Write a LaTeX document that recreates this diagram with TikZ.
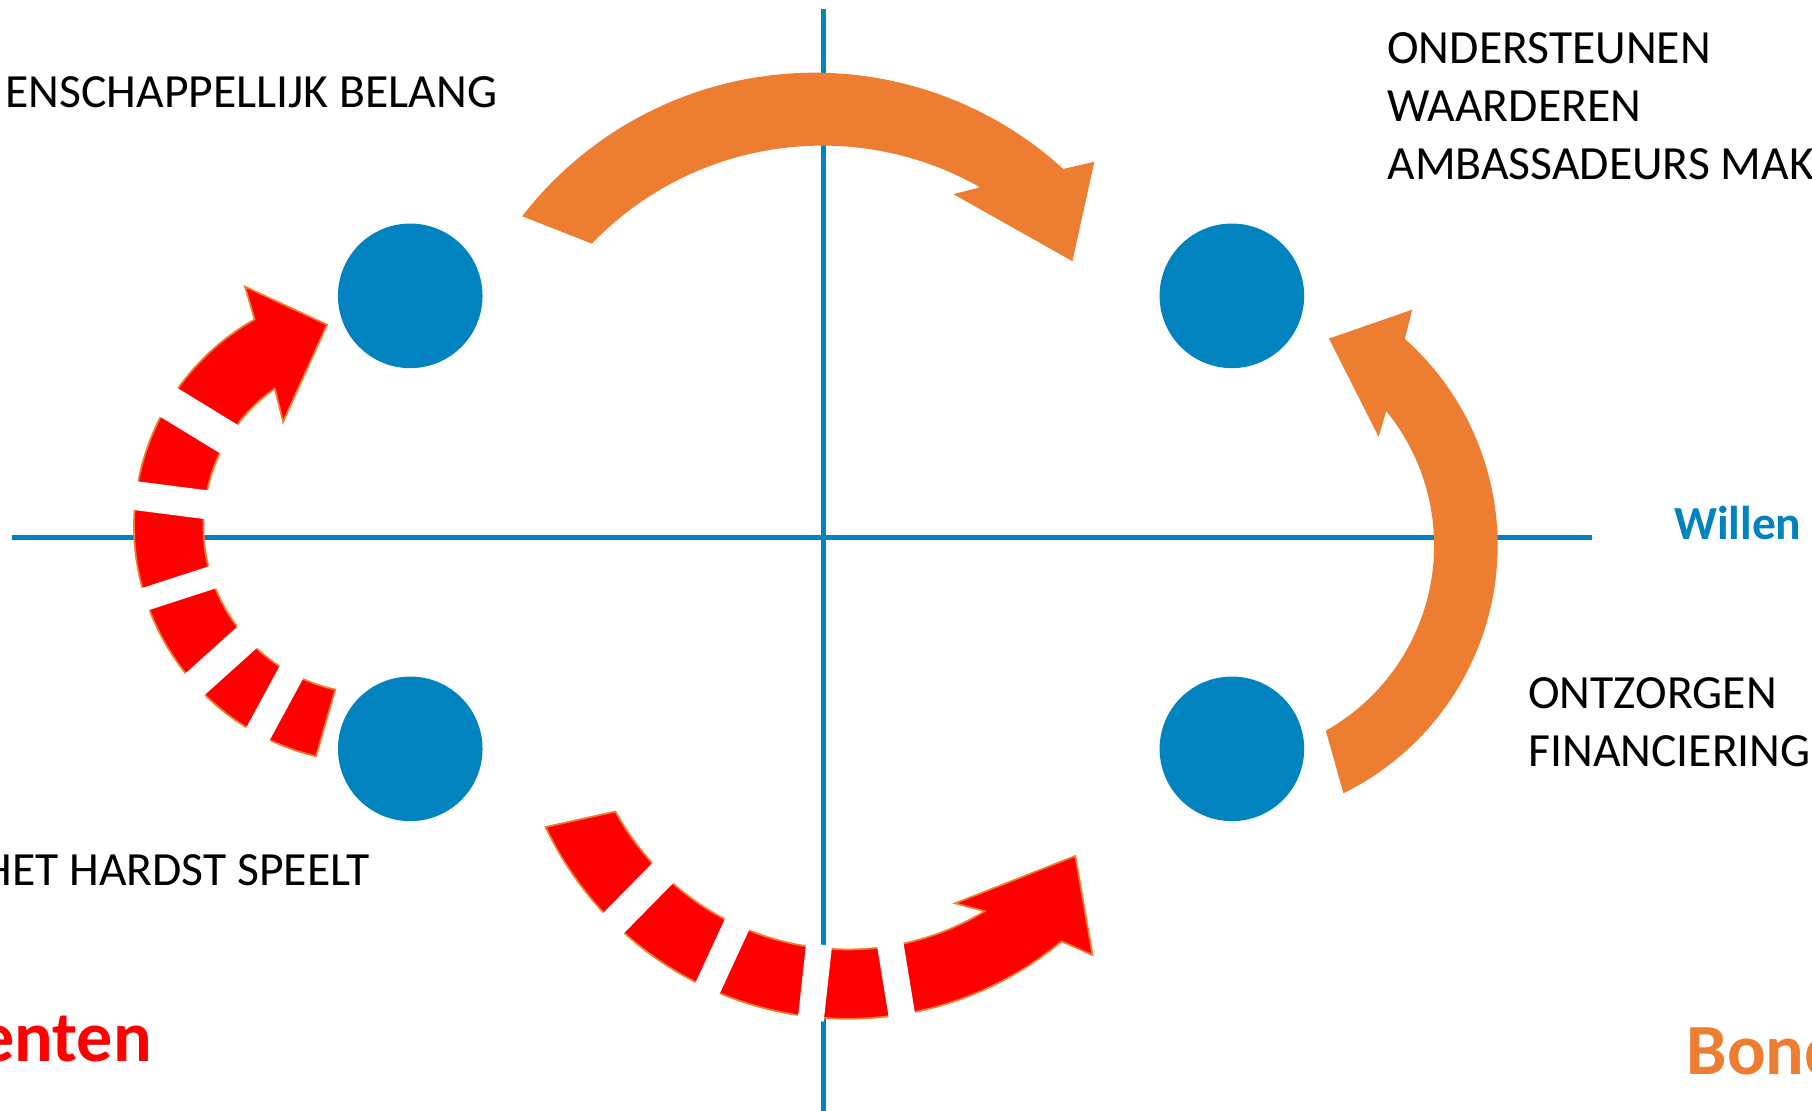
\documentclass[tikz,border=0pt]{standalone}
\usepackage{fontspec}
\setmainfont{Carlito}
\usetikzlibrary{calc}
\definecolor{axisblue}{RGB}{0,131,190}
\definecolor{arrorange}{RGB}{237,125,49}
\definecolor{arrred}{RGB}{255,0,0}
\begin{document}
\begin{tikzpicture}[x=0.011556cm, y=0.011556cm,
  dot/.style={circle, fill=axisblue, minimum size=1.445cm, inner sep=0pt},
  axisline/.style={draw=axisblue, line width=0.05cm},
  orangearrow/.style={fill=arrorange},
  redarrow/.style={fill=arrred, draw=arrorange, line width=0.5pt, line join=miter},
  gapbar/.style={draw=white, line width=#1*0.011556cm},
  lbl/.style={font=\fontsize{13.55}{16}\selectfont, inner sep=0pt, text=black},
  axislbl/.style={font=\fontsize{13.5}{16}\selectfont\bfseries, inner sep=0pt, text=axisblue},
  biglbl/.style={font=\fontsize{20.5}{24}\selectfont\bfseries, inner sep=0pt}
]
\useasboundingbox (0,0) rectangle (1568,961);

% axes
\coordinate (hl) at (10,496);
\coordinate (hr) at (1378,496);
\coordinate (vt) at (713,953);
\coordinate (vb) at (713,0);
\draw[axisline] (hl) -- (hr);
\draw[axisline] (vt) -- (vb);

% circles
\node[dot] (c1) at (355,705) {};
\node[dot] (c2) at (1066,705) {};
\node[dot] (c3) at (355,313) {};
\node[dot] (c4) at (1066,313) {};

% top orange arrow
\coordinate (OT) at (704.9,578.3);
\coordinate (IT) at (711.5,558.3);
\fill[orangearrow] ($(OT)+(142.3:319.8)$) arc[start angle=142.3, end angle=47.7, radius=319.8]
  -- (947,821) -- (928,735) -- (825,793)
  -- ($(IT)+(60.4:276.7)$) arc[start angle=60.4, end angle=136.1, radius=276.7] -- cycle;

% right orange arrow
\coordinate (R) at (1057,489);
\fill[orangearrow] ($(R)+(-63.8:239)$) arc[start angle=-63.8, end angle=48.4, radius=239]
  -- (1222,693) -- (1150,668) -- (1193,583)
  -- ($(R)+(39.2:184)$) arc[start angle=39.2, end angle=-60.6, radius=184] -- cycle;

% left red dashed arrow
\coordinate (L) at (321,506);
\filldraw[redarrow] ($(L)+(256.6:205)$) arc[start angle=256.6, end angle=119.4, radius=205]
  -- (212,713) -- (283,680) -- (245,596)
  -- ($(L)+(125:145)$) arc[start angle=125, end angle=257.7, radius=145] -- cycle;
\draw[gapbar=29] ($(L)+(148.6:142)$) -- ($(L)+(148.6:208)$);
\draw[gapbar=25] ($(L)+(172.7:142)$) -- ($(L)+(172.7:208)$);
\draw[gapbar=20] ($(L)+(198:142)$) -- ($(L)+(198:208)$);
\draw[gapbar=25] ($(L)+(222:142)$) -- ($(L)+(222:208)$);
\draw[gapbar=23] ($(L)+(241.5:142)$) -- ($(L)+(241.5:208)$);

% bottom red dashed arrow
\coordinate (B) at (733.6,368.4);
\filldraw[redarrow] ($(B)+(205.2:289)$) arc[start angle=205.2, end angle=309.8, radius=289]
  -- (945.4,134.6) -- (930.5,220.3) -- (826.4,179.3)
  -- ($(B)+(301.2:229)$) arc[start angle=301.2, end angle=208.6, radius=229] -- cycle;
\draw[gapbar=25] ($(B)+(225.5:226)$) -- ($(B)+(225.5:292)$);
\draw[gapbar=23] ($(B)+(245.2:226)$) -- ($(B)+(245.2:292)$);
\draw[gapbar=22.5] ($(B)+(263.7:226)$) -- ($(B)+(263.7:292)$);
\draw[gapbar=23] ($(B)+(279.3:226)$) -- ($(B)+(279.3:292)$);

% texts
\node[lbl, anchor=base west] (gb) at (4.3,868) {ENSCHAPPELLIJK BELANG};
\node[lbl, anchor=base west] (ond) at (1200,906) {ONDERSTEUNEN};
\node[lbl, anchor=base west] (waa) at (1200,856) {WAARDEREN};
\node[lbl, anchor=base west] (amb) at (1200,806) {AMBASSADEURS MAK};
\node[lbl, anchor=base west] (ont) at (1322,348) {ONTZORGEN};
\node[lbl, anchor=base west] (fin) at (1322,298) {FINANCIERING};
\node[lbl, anchor=base east] (hhs) at (321,195) {HET HARDST SPEELT};
\node[axislbl, anchor=base west] (wil) at (1448,494) {Willen};
\node[biglbl, text=arrred, anchor=base east] (ent) at (132,42.3) {enten};
\node[biglbl, text=arrorange, anchor=base west] (bon) at (1459,31.3) {Bond};
\end{tikzpicture}
\end{document}
